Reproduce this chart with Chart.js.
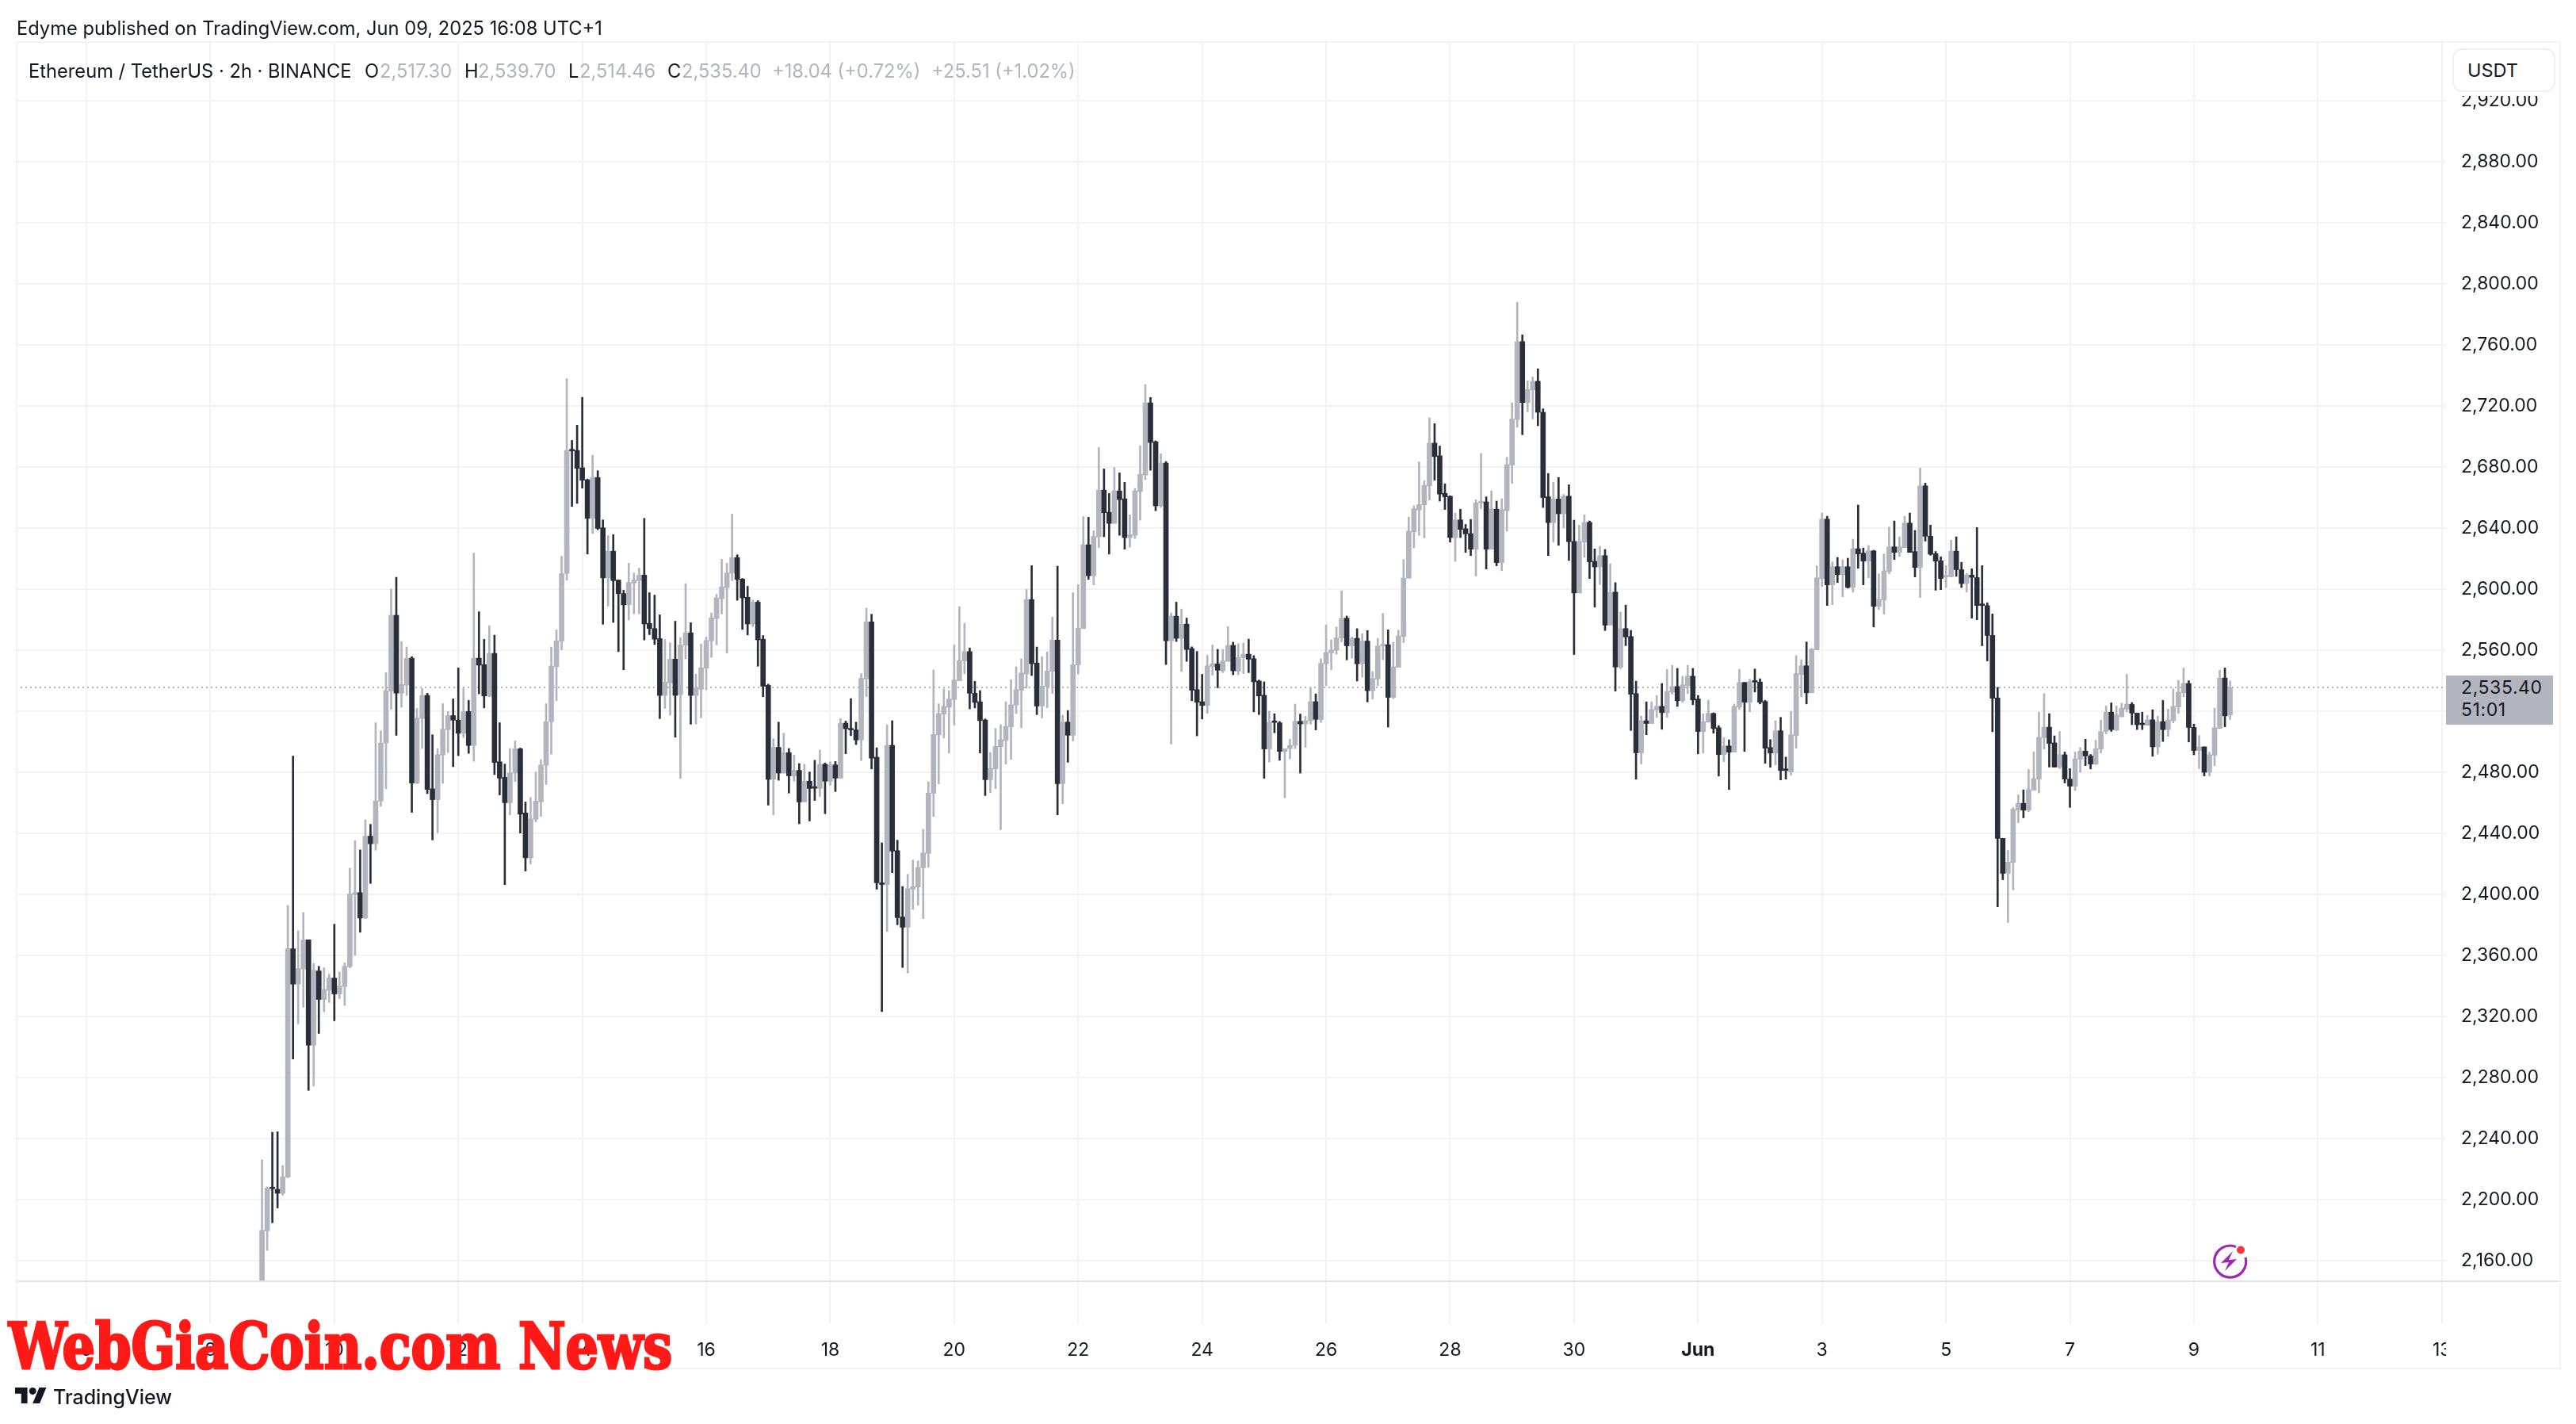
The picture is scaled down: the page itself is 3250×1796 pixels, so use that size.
<!DOCTYPE html>
<html><head><meta charset="utf-8">
<style>
html,body{margin:0;padding:0;background:#fff;width:3250px;height:1796px;overflow:hidden;font-family:Inter,sans-serif}
canvas{position:absolute;left:0;top:0}
.t{position:absolute;white-space:nowrap;line-height:30px;font-size:23.7px;color:#131722}
.g{color:#b2b5be}
.f{position:absolute;background:#f3f3f5}
.p{font-size:23px;letter-spacing:.6px}
#wm{position:absolute;left:11px;top:1658px;font:bold 80px/1 "DejaVu Serif";font-stretch:condensed;color:#ff1a17;white-space:nowrap;transform-origin:0 0;-webkit-text-stroke:3px #ff1a17}
</style></head><body>
<canvas id="c" width="3250" height="1796"></canvas>
<div class="f" style="left:20px;top:52px;width:3211px;height:2px"></div>
<div class="f" style="left:20px;top:52px;width:2px;height:1675px"></div>
<div class="f" style="left:3229px;top:52px;width:2px;height:1675px"></div>
<div class="f" style="left:20px;top:1725px;width:3211px;height:2px"></div>
<div style="position:absolute;left:22px;top:1615px;width:3207px;height:2px;background:#e0e3eb"></div>
<div style="position:absolute;left:3086px;top:1680px;width:16px;height:40px;background:#fff"></div>
<div style="position:absolute;left:3086px;top:54px;width:143px;height:67px;background:#fff"></div>
<div class="t" style="left:21px;top:21px">Edyme published on TradingView.com, Jun 09, 2025 16:08 UTC+1</div>
<div class="t" style="left:36px;top:75px">Ethereum / TetherUS · 2h · BINANCE</div>
<div class="t" style="left:460px;top:75px">O</div><div class="t g" style="left:479px;top:75px">2,517.30</div>
<div class="t" style="left:586px;top:75px">H</div><div class="t g" style="left:603px;top:75px">2,539.70</div>
<div class="t" style="left:717px;top:75px">L</div><div class="t g" style="left:731px;top:75px">2,514.46</div>
<div class="t" style="left:842px;top:75px">C</div><div class="t g" style="left:860px;top:75px">2,535.40</div>
<div class="t g" style="left:974px;top:75px">+18.04 (+0.72%)</div>
<div class="t g" style="left:1175px;top:75px">+25.51 (+1.02%)</div>
<div style="position:absolute;left:3094px;top:61px;width:126px;height:51px;border:2px solid #f1f1f4;border-radius:12px;background:#fff"></div>
<div class="t" style="left:3113px;top:74px;font-size:23.5px">USDT</div>
<div style="position:absolute;left:3086px;top:852px;width:135px;height:62px;background:#b2b5be"></div>
<div class="t p" style="left:3105px;top:852px">2,535.40</div>
<div class="t p" style="left:3105px;top:880px">51:01</div>
<svg style="position:absolute;left:2790px;top:1566px" width="48" height="48" viewBox="0 0 48 48">
<path d="M31 6.5A20 20 0 1 0 43 20" fill="none" stroke="#9c27b0" stroke-width="3.2"/>
<path d="M27 12 L12 27 L22 26 L17 37 L32 22 L22 23 Z" fill="#9c27b0"/>
<circle cx="37" cy="10.5" r="5" fill="#f23645"/></svg>
<svg style="position:absolute;left:19px;top:1750px" width="40" height="20" viewBox="0 4 36 18"><path d="M14 22H7V11H0V4h14v18zM28 22h-8l7.5-18h8L28 22z" fill="#131722"/><circle cx="20" cy="8" r="4" fill="#131722"/></svg>
<div class="t" style="left:67px;top:1747px;font-size:25px;font-weight:500">TradingView</div>
<div id="wm">WebGiaCoin.com News</div>
<script src="https://cdn.jsdelivr.net/npm/chart.js@4"></script>
<script>
const firstCandle = 34;
const timeLabels = ['6','8','10','12','14','16','18','20','22','24','26','28','30','Jun','3','5','7','9','11','13'];
const lastPrice = 2535.4;
const opens = [2130,2179.4,2207.7,2206.6,2204,2214.7,
2364.2,2341,2351,2370,2301,2349.7,2331,2337,2345,2334.6,
2339.5,2352.5,2399.7,2401,2384.3,2438,2433,2461,2499,2533,
2582.7,2531.7,2537,2554.6,2472.8,2515,2530.2,2469,2461.9,2491.2,
2507.8,2517,2514,2505.4,2519.6,2497.4,2554.6,2550.4,2529.8,2557.7,
2486.7,2476.5,2459.9,2479.3,2495.2,2453.2,2423.8,2449,2460.4,2484.5,
2513,2549,2565.7,2610,2691,2690.7,2679.3,2671.5,2646.2,2672.9,
2640,2607.2,2624.7,2605.8,2596.9,2589.5,2603.8,2605.4,2609,2577.4,
2574,2567.4,2530.2,2538.4,2554,2530.6,2563.1,2571.2,2530.2,2534.2,
2548,2565.9,2580.6,2593.5,2600.9,2610.2,2620.5,2606.4,2594.5,2577,
2591.3,2567,2536.8,2475.2,2496.2,2479.3,2492.7,2477.5,2481.1,2460.4,
2474,2470.2,2469.2,2485.1,2474,2484.7,2476,2512,2508.6,2507.6,
2501,2541,2578.4,2489.7,2407.4,2406.3,2497.5,2428.5,2385,2378.3,
2403.2,2404.7,2417.2,2426.7,2466,2504.3,2518,2522.5,2527.4,2539.8,
2552.7,2558.9,2531.6,2526,2514.1,2475,2482,2496.6,2500.6,2509.6,
2523.8,2533.6,2544.2,2593,2551.4,2523.2,2536,2546,2566.4,2472.4,
2512.7,2504.1,2550.1,2574,2628.9,2608.6,2634.1,2664.7,2650.2,2642.9,
2664.2,2659,2633.6,2635.1,2663.7,2674.6,2721.9,2696.4,2654.4,2682.4,
2566,2582.1,2567.6,2576.9,2560.9,2534,2526.1,2523.6,2549,2550.9,
2546.3,2552.5,2563,2546,2554.9,2557.2,2554.2,2539.6,2530.3,2495.1,
2513.4,2512.2,2493.5,2495.3,2497.4,2513.2,2511.5,2513.6,2526.1,2514.3,
2550.9,2558.1,2559.7,2567.8,2580.8,2562.7,2567.6,2550.9,2565.8,2533.3,
2541,2562.5,2563.4,2528.9,2548.6,2568.8,2607,2637.3,2651.7,2655,
2667.5,2695.5,2687.2,2662.6,2660.7,2633.6,2645.2,2639.4,2636.2,2626,
2656.3,2657,2626,2652.2,2617.2,2651.2,2681.1,2711,2762,2722.1,
2730.3,2736,2715.7,2660.3,2643.4,2658.9,2649.2,2660.7,2631.1,2597.3,
2630.6,2643.6,2618.1,2614.4,2621.8,2576.3,2597.9,2548.7,2574,2568.8,
2531.4,2492.6,2513.6,2511.8,2520.7,2523,2518.9,2532.3,2536,2526.7,
2536.6,2542.8,2527.8,2506.5,2512.7,2518.4,2509,2491.4,2497.1,2493,
2522.6,2538.7,2525.7,2539.7,2539,2526.2,2496.1,2492.4,2507,2482,
2480,2503.9,2543.9,2549.6,2531.9,2560,2606.7,2645.7,2602.6,2614.5,
2609.2,2614.5,2601,2626.3,2623.4,2618.2,2624.9,2588.6,2592.7,2611.4,
2627.5,2623.9,2627,2643.1,2624.4,2614,2667.5,2634.5,2623.1,2618.4,
2607.8,2608,2624.7,2612.6,2603.5,2609,2607.4,2589.7,2589,2569.5,
2528.5,2436.5,2413.6,2420.8,2455,2459.5,2455,2468.1,2475.4,2502.5,
2509.4,2499.1,2483.2,2491.3,2475.4,2470.7,2488.4,2493.7,2490.5,2485.2,
2495.1,2506.6,2519.2,2507.4,2516.2,2521.2,2524.3,2518.6,2511.8,2510.6,
2514.2,2496.5,2513,2507.8,2513.6,2522.6,2531.9,2538,2509.2,2494.1,
2496.5,2479.8,2491,2508.6,2541.6,2517.3];
const highs = [2226,2208.3,2244,2244.3,2222.2,2392.7,
2490.4,2376,2388,2370,2354.5,2352.7,2351.7,2347.5,2380.3,2349,
2355,2417,2435,2429,2448.7,2445.7,2512.3,2507,2545.2,2599.8,
2607.6,2565.5,2561.9,2555.6,2521.7,2534.7,2531.6,2504.4,2495.4,2524.8,
2519.6,2527.9,2548.2,2535.2,2526.9,2623.5,2585,2567,2575.9,2569.7,
2512.3,2485.2,2495.4,2500.4,2495.7,2460.4,2463.3,2480,2488.2,2524.8,
2561.9,2573.1,2621.4,2737.8,2697.3,2707.2,2725.5,2672,2687.6,2677.4,
2645.2,2634.9,2635.5,2605.8,2599.1,2616.8,2610.4,2613.6,2646.2,2597.5,
2595.9,2583,2566.8,2564.7,2578.8,2568.2,2603.4,2577.8,2544.2,2563.9,
2568.4,2584.2,2596.5,2619.4,2616.8,2649,2622.3,2606.8,2601.7,2592.7,
2592.3,2569.4,2537.6,2501.8,2512.7,2505.4,2495.4,2491.1,2485.5,2485.1,
2480,2487.7,2494.4,2485.9,2486.7,2486.9,2515,2513.4,2528.1,2512.7,
2544.4,2587.3,2583.4,2495.9,2433.6,2511,2513.6,2435.3,2405,2413,
2422.3,2421.8,2442.5,2473.7,2546.9,2524.7,2534.5,2533.4,2563.3,2588.4,
2577.5,2561.3,2539.4,2533.4,2514.8,2492.8,2508.5,2511,2526.1,2540.5,
2548.9,2554.2,2599.6,2615.2,2561.9,2555.6,2558.7,2581.6,2614.9,2517.2,
2520.3,2597.5,2602.7,2647.4,2646.9,2638.1,2692.6,2678.6,2662.5,2679.6,
2676,2669.8,2648.5,2665.8,2693.8,2733.9,2725.4,2697,2688.5,2683.5,
2584.2,2591.3,2586.8,2580.9,2562,2559,2544,2556.5,2563.2,2560.4,
2560.4,2575.3,2565.1,2564.1,2564.6,2567.1,2556.3,2540.3,2539.1,2519.9,
2518.2,2513.1,2495.3,2501.6,2524.5,2518,2516.6,2535.2,2531.2,2554.2,
2576.4,2566.7,2575,2598.7,2582.2,2568.5,2573.9,2570.6,2572.7,2545.8,
2567.6,2584,2573.2,2565,2572.9,2619.3,2647,2654.5,2683.2,2670.9,
2712,2708.2,2693.6,2668.9,2661,2649.6,2652.2,2642.2,2645.5,2658.4,
2688.7,2660.3,2664.2,2657.5,2659.1,2686.2,2721.9,2787.7,2766.4,2736.3,
2738.8,2744.2,2718,2675.6,2669.8,2673,2661.9,2668.2,2645,2641.7,
2648.5,2644.5,2626.2,2627.9,2625.8,2616.5,2604.1,2584.8,2589.4,2572.8,
2539.5,2516.7,2526,2526,2530.2,2538,2547.3,2549.9,2547.9,2542.8,
2549.9,2547.9,2530.2,2518.2,2527,2518.8,2510.4,2502.7,2501.1,2524.5,
2547.3,2538.7,2540.8,2547.5,2541.1,2527,2501.3,2513.6,2515.8,2489.8,
2519.8,2556.2,2553.6,2565.2,2561,2615.1,2649.7,2647.6,2617.7,2620.6,
2619,2620.1,2632.6,2654.9,2626.8,2628.4,2625.3,2609.9,2622.9,2640.5,
2644.5,2634.1,2647.6,2649.7,2638.3,2679.2,2669.3,2641.8,2624.5,2621,
2615.2,2631.9,2634.1,2617.4,2610,2613.2,2640.2,2615.2,2590.9,2583.6,
2535.5,2436.5,2428.7,2456.7,2465.1,2468.3,2481.8,2493.1,2519.2,2531.3,
2518.2,2503.7,2506.6,2493.1,2482.2,2493.1,2496.1,2501.5,2491.5,2500.9,
2514,2523.3,2525.3,2523.3,2525.1,2544,2525.5,2518.6,2519.2,2517.2,
2520.8,2516.6,2526.9,2521.2,2534.5,2540,2548.2,2539.8,2511.4,2503.9,
2496.5,2493.1,2521.8,2546.6,2548.2,2539.7];
const lows = [2120,2166.5,2184.7,2194.4,2202.8,2214.2,
2292,2315,2325.9,2271.4,2274.4,2308.7,2322.9,2329,2317,2331.6,
2327,2351.7,2360,2375,2384,2407,2428.8,2457.4,2469,2521,
2504,2522.4,2530.2,2453.6,2472.3,2495.4,2465.8,2435.5,2440.2,2472.5,
2492.7,2483.5,2490.7,2502.6,2492.2,2487,2531.2,2522,2529.3,2478.3,
2465,2406.2,2451.9,2473.8,2440,2415.1,2419.8,2447.4,2450.9,2471.8,
2491.7,2526.7,2560,2605.7,2654,2656,2666,2622.8,2636.3,2638.7,
2576.8,2588.7,2578,2558.9,2547,2579.6,2583.6,2583.6,2566.5,2570,
2563.5,2515,2521.7,2517.3,2502.8,2475.8,2554.1,2511.4,2511.4,2515.5,
2533.8,2555.1,2563.3,2583.6,2557.9,2605.4,2592.5,2573.4,2569.8,2575.2,
2549.3,2529.3,2458.3,2452,2474.6,2479.3,2466.2,2474,2446.1,2460.4,
2447.9,2461.4,2464,2452.7,2471.4,2467.2,2476,2492,2503.8,2498,
2487.5,2529.3,2482,2403.2,2323,2375.5,2414,2379.9,2351.9,2348.2,
2390,2392.7,2383.9,2417.6,2450.9,2472.2,2502.3,2492.4,2510.7,2539.8,
2544.3,2521.4,2522,2492.4,2464.6,2466.4,2469.1,2442.2,2485.2,2488.3,
2518.3,2509,2534.9,2543.2,2517.6,2515.4,2522.1,2531.4,2452,2459.3,
2486.4,2500.3,2544.2,2574,2606.2,2602.6,2627,2634.1,2622.8,2642.9,
2635.1,2626,2627.3,2633,2645,2671.5,2677.7,2651.2,2653.3,2550.4,
2498.3,2565.5,2545.8,2552.5,2526.7,2503.7,2514.8,2518.5,2543.5,2535.2,
2545.1,2552.5,2543.7,2543.7,2544.4,2545.1,2519.4,2517.6,2475.9,2486.5,
2505.7,2487.7,2463.1,2488.6,2495.3,2479.3,2496.2,2511.3,2507.6,2512.5,
2536.6,2547,2557.2,2565.3,2553.5,2554.6,2539.6,2542.1,2525.9,2527.8,
2536.6,2553.5,2509.4,2528,2548.6,2564.8,2607,2626.9,2635,2633.4,
2658.2,2671.2,2657.5,2652,2630.6,2618,2633.6,2623.9,2621.8,2608.4,
2652.4,2613,2626,2615.1,2611.9,2637.8,2669,2705.9,2701,2716.1,
2711.3,2706.9,2653.3,2621.8,2630.6,2628.5,2639.9,2618.6,2557,2597.3,
2620.7,2606.8,2588,2602.8,2572.7,2576.3,2533,2547.7,2562.8,2507.2,
2475.3,2485.3,2504.4,2511.8,2515.8,2508,2515.8,2531,2523,2525.7,
2531.4,2524.1,2491.9,2492.4,2512.5,2505.4,2477.4,2486.7,2468.5,2493,
2521,2493.5,2519.5,2532.4,2524.6,2485.7,2483.1,2484.6,2474.8,2475.3,
2477.9,2495.6,2529.3,2524.6,2531.9,2560,2601.5,2589.1,2589.6,2604.1,
2594.8,2600.5,2597.9,2613.5,2602.6,2607.3,2575,2586.5,2583.4,2609.9,
2619.2,2621.3,2627,2623.9,2607.8,2594.3,2631.3,2622,2599.1,2599.5,
2600.9,2607.8,2608.2,2600.9,2597.9,2580.8,2579.8,2562.7,2552.8,2506.4,
2391.7,2409.4,2381.4,2402.7,2446.8,2450,2454,2468.1,2466.3,2495.1,
2483.2,2483.2,2482.2,2472.8,2456.8,2467.9,2479.8,2484.2,2482,2484.8,
2492.5,2505,2506.6,2507.2,2516.2,2519.4,2511,2507.8,2507.8,2510.6,
2490.3,2491.7,2500,2503.3,2512.2,2518.4,2529.3,2499.7,2491.3,2482.2,
2477.4,2477.4,2484.2,2508.4,2509.6,2514.46];
const closes = [2179.7,2207.3,2207,2204,2214.7,2364.2,
2341,2351.2,2369.9,2301,2350.2,2331,2337.5,2345,2334.6,2339.8,
2352.7,2400,2401,2384.3,2438,2433,2461,2499,2533.3,2582.7,
2531.7,2537.3,2554.6,2472.8,2515.3,2530.2,2468.6,2461.9,2491.4,2508,
2517,2514,2505.4,2519.6,2497.4,2554.6,2550,2529.8,2557.7,2486.2,
2476,2459.9,2479.5,2495.2,2452.4,2423.8,2449.4,2460.9,2484.5,2513,
2549.4,2565.9,2610,2690.7,2690.4,2679,2671.2,2646.2,2673,2639.6,
2607.2,2624.7,2605.4,2596.9,2589.5,2604.2,2605.8,2609,2577,2574,
2567,2530.2,2539,2554,2530.2,2563.3,2571.2,2530.2,2535.2,2548.3,
2566.2,2581,2594.1,2601.3,2610.4,2620.5,2606.2,2594.1,2577,2591.3,
2566.6,2536.2,2475.2,2496.2,2479.3,2492.7,2477.5,2481.1,2460.4,2474,
2469.2,2469.4,2485.1,2474,2484.7,2476,2512,2508.4,2507.6,2501,
2541.4,2578.4,2489.1,2407.4,2406.3,2497.5,2428.2,2384.6,2378.3,2403.6,
2405,2417.6,2427,2466.2,2504.6,2518.3,2523,2527.8,2540.2,2553,
2558.9,2531.6,2525.6,2513.7,2475,2482.4,2496.8,2501.2,2509.9,2524.1,
2534,2544.9,2593,2551,2523.2,2536.3,2546.2,2566.5,2472.4,2512.7,
2504.1,2550.3,2574.2,2628.9,2608.6,2634.4,2664.7,2649.9,2642.9,2664.2,
2658.5,2633.6,2635.5,2664.2,2675.1,2721.9,2695.9,2654.4,2682.4,2566,
2582.2,2567.6,2576.9,2560.3,2533.6,2525.7,2523.6,2549.5,2550.9,2546.7,
2552.8,2563,2546.3,2555.1,2557.2,2553.9,2539.1,2529.8,2495.1,2512.7,
2512.5,2493.5,2495.3,2497.4,2513.2,2511.5,2513.6,2526.1,2514.5,2551.2,
2558.3,2560,2568,2580.8,2562.7,2567.6,2550.9,2565.8,2533.3,2541.2,
2562.5,2563.7,2528.9,2549,2569.2,2607,2637.8,2652.4,2655.2,2667.9,
2695.5,2686.7,2662.1,2660.3,2633.6,2645.2,2639,2636,2626,2656.3,
2657.5,2626,2652.4,2617.2,2652,2681.4,2711.3,2762,2722.1,2730.7,
2736,2715.7,2659.8,2643.4,2658.9,2649.2,2660.7,2630.9,2597.3,2631.1,
2643.6,2617.7,2614.4,2621.8,2576.2,2597.7,2548.8,2573.9,2568.5,2531,
2492.6,2513.6,2511.8,2521,2523,2518.9,2532.8,2536,2526.7,2537.1,
2542.8,2527.2,2506.5,2513,2518.4,2508.5,2491.4,2497.1,2493,2523,
2538.7,2525.7,2539.2,2538.9,2525.7,2495.6,2492.4,2507,2481,2481,
2504.4,2544.4,2549.6,2531.9,2560.5,2607.3,2645.7,2602.6,2614.5,2609.3,
2614.5,2601,2626.3,2622.9,2618.2,2624.9,2588.6,2593.2,2611.8,2627.5,
2623.9,2627.5,2643.1,2623.9,2614,2667.5,2634.5,2622.7,2618.2,2606.8,
2608.4,2624.7,2612.6,2603.5,2609.2,2607.6,2589.1,2589.1,2569.5,2528.3,
2436.5,2413.6,2421,2455.6,2459.5,2455,2468.5,2475.6,2502.7,2509.4,
2498.7,2483.2,2491.3,2475.4,2470.7,2488.6,2493.7,2490.5,2485.2,2495.3,
2506.6,2519.2,2507.8,2517.4,2521.8,2524.5,2518.6,2511,2511,2514.2,
2496.5,2513,2507.8,2514.2,2523,2532.3,2538,2509.2,2494.1,2496.5,
2479.8,2491.3,2509,2541.6,2516.8,2535.4];

const UP='#b2b5be', DOWN='#2a2e39', GRID='#f3f3f5', TXT='#131722';
const xs = opens.map((_,i)=>firstCandle+i);
const colors = opens.map((o,i)=>closes[i]>=o?UP:DOWN);
const X_MIN=(20-109)/6.517, X_MAX=(3086-109)/6.517;
const PX=1.925, Y_MIN=2920-(1616-126.7)/PX, Y_MAX=2920+(126.7-53)/PX;

const wm=document.getElementById('wm');
wm.style.transform='scaleX('+(837/wm.offsetWidth)+')';

const ctx=document.getElementById('c').getContext('2d');
ctx.letterSpacing='0.6px';
new Chart(ctx,{
  data:{datasets:[
    {type:'line',order:3,data:[{x:X_MIN,y:lastPrice},{x:X_MAX,y:lastPrice}],borderColor:UP,borderWidth:2,borderDash:[2,4],pointRadius:0},
    {type:'bar',order:2,grouped:false,barThickness:2,data:xs.map((x,i)=>({x,y:[lows[i],highs[i]]})),backgroundColor:colors,borderWidth:0},
    {type:'bar',order:1,grouped:false,barThickness:6,minBarLength:2,data:xs.map((x,i)=>({x,y:[opens[i],closes[i]]})),backgroundColor:colors,borderWidth:0}
  ]},
  options:{
    responsive:false,animation:false,devicePixelRatio:1,
    layout:{padding:{left:20,top:53,right:0,bottom:0}},
    plugins:{legend:{display:false},tooltip:{enabled:false}},
    scales:{
      x:{type:'linear',min:X_MIN,max:X_MAX,offset:false,
        afterFit(s){s.height=180},
        border:{display:false},
        grid:{offset:false,color:GRID,lineWidth:2,drawTicks:true,tickLength:54,tickColor:GRID},
        ticks:{stepSize:24,includeBounds:false,autoSkip:false,maxRotation:0,minRotation:0,padding:19,color:TXT,
          font:c=>({family:'Inter',size:23,weight:c.tick&&c.tick.label==='Jun'?'bold':'normal'}),
          callback:v=>timeLabels[v/24]}},
      y:{type:'linear',position:'right',min:Y_MIN,max:Y_MAX,
        afterFit(s){s.width=164},
        border:{display:false},
        grid:{color:GRID,lineWidth:2,drawTicks:false},
        ticks:{stepSize:40,includeBounds:false,autoSkip:false,padding:19,color:TXT,
          font:{family:'Inter',size:23},
          callback:v=>v.toLocaleString('en-US',{minimumFractionDigits:2,maximumFractionDigits:2})}}
    }
  }
});
</script>
</body></html>
